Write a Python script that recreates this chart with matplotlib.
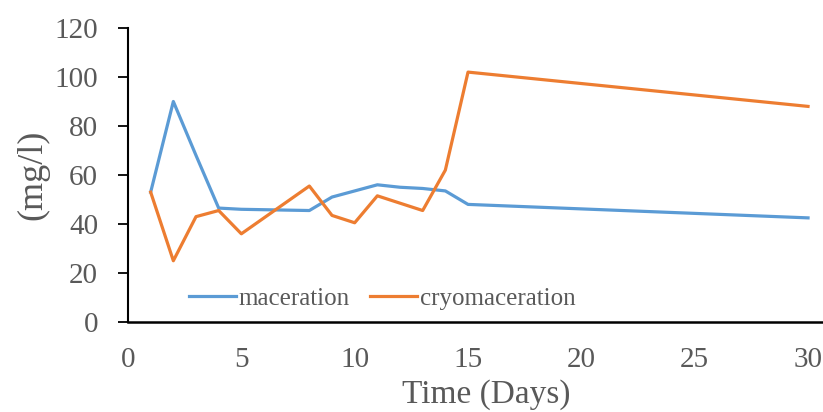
import matplotlib
matplotlib.use("Agg")
from matplotlib import pyplot as plt

# 数据
days_mac = [1, 2, 3, 4, 5, 8, 9, 10, 11, 12, 13, 14, 15, 30]
maceration = [53, 90, 68, 46.5, 46, 45.5, 51, 53.5, 56, 55, 54.5, 53.5, 48, 42.5]

days_cryo = [1, 2, 3, 4, 5, 8, 9, 10, 11, 13, 14, 15, 30]
cryomaceration = [53, 25, 43, 45.5, 36, 55.5, 43.5, 40.5, 51.5, 45.5, 62, 102, 88]

x_ticks = [0, 5, 10, 15, 20, 25, 30]
y_ticks = [0, 20, 40, 60, 80, 100, 120]

plt.rcParams['font.family'] = ['Liberation Serif', 'DejaVu Serif']
grey = '#595959'

fig = plt.figure(figsize=(8.23, 4.12), dpi=100)
ax = fig.add_axes([128 / 823, 1 - 322 / 412, 1 - 128 / 823, (322 - 28) / 412])

ax.plot(days_mac, maceration, color='#5B9BD5', linewidth=2.3, label='maceration')
ax.plot(days_cryo, cryomaceration, color='#ED7D31', linewidth=2.3, label='cryomaceration')

ax.set_xlim(0, 30.66)
ax.set_ylim(0, 120)
ax.set_xticks(x_ticks)
ax.set_yticks(y_ticks)

# 坐标轴样式
ax.spines['top'].set_visible(False)
ax.spines['right'].set_visible(False)
ax.spines['left'].set_linewidth(1.5)
ax.spines['bottom'].set_linewidth(1.8)
ax.tick_params(axis='y', direction='out', length=7.5, width=1.3, labelsize=21, labelcolor=grey, pad=14)
ax.tick_params(axis='x', length=0, labelsize=21, labelcolor=grey, pad=18)

ax.set_xlabel('Time (Days)', fontsize=24, color=grey)
ax.xaxis.set_label_coords(0.515, -0.195, transform=ax.transAxes)
ax.xaxis.label.set_va('top')
ax.set_ylabel('(mg/l)', fontsize=26, color=grey, labelpad=4)

ax.legend(loc='lower left', bbox_to_anchor=(0.055, -0.035), ncol=2, frameon=False,
          fontsize=18, labelcolor=grey, handlelength=1.9, columnspacing=0.8,
          handletextpad=0.1)

fig.savefig('out.png', dpi=100)
